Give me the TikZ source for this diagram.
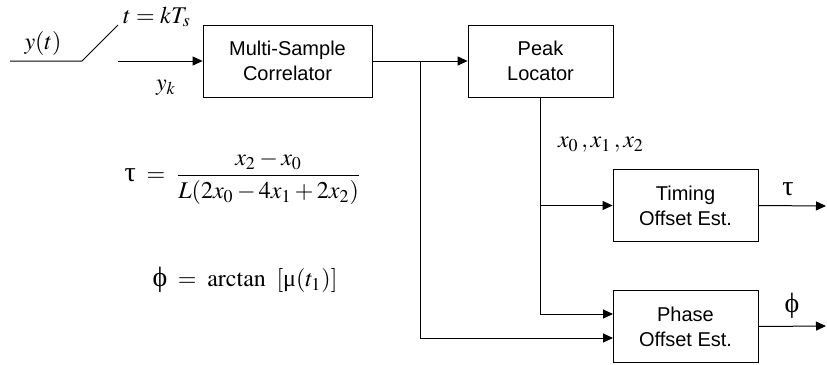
\documentclass[tikz,border=0pt]{standalone}
\usepackage{mathptmx}
\usepackage[no-math]{fontspec}
\setmainfont{Liberation Sans}
\newfontfamily\grk{Liberation Serif}
\usetikzlibrary{arrows.meta}

\begin{document}
\begin{tikzpicture}[x=0.5pt,y=-0.5pt]
  \tikzset{BlockStyle/.style = {draw,
                                 rectangle,
                                 align          = center,
                                 font           = \fontsize{10}{12.5}\selectfont,
                                 inner sep      = 0pt,
                                 minimum height = 36pt}}
  \tikzset{WireStyle/.style   = {line width     = 0.5pt}}
  \tikzset{ArrowStyle/.style  = {WireStyle,
                                 -{Triangle[length=5pt,width=4.5pt]}}}
  \tikzset{MathStyle/.style   = {font           = \fontsize{12}{14}\selectfont,
                                 inner sep      = 0pt}}

\useasboundingbox (0,0) rectangle (827,365);

\coordinate (A1) at (10,61);
\coordinate (A2) at (82,61);
\coordinate (A3) at (118,25);
\coordinate (A4) at (118,61);
\coordinate (B1) at (420,61);
\coordinate (C1) at (613,314);
\coordinate (C2) at (613,338);
\coordinate (D1) at (826,206);
\coordinate (D2) at (826,326);

\node[BlockStyle, minimum width=84.5pt] (Corr)   at (287.5,61)  {Multi-Sample\\Correlator};
\node[BlockStyle, minimum width=72.5pt] (Peak)   at (540.5,61)  {Peak\\Locator};
\node[BlockStyle, minimum width=72.5pt] (Timing) at (685.5,205.5) {Timing\\Offset Est.};
\node[BlockStyle, minimum width=72.5pt] (Phase)  at (685.5,326.5) {Phase\\Offset Est.};

% sampler
\draw[WireStyle] (A1) -- (A2) -- (A3);
\draw[ArrowStyle] (A4) -- (Corr.west);

\draw[ArrowStyle] (Corr.east) -- (Peak.west);
\draw[ArrowStyle] (B1) |- (C2);
\draw[ArrowStyle] (Peak.south) |- (C1);
\draw[ArrowStyle] (Peak.south |- Timing.west) -- (Timing.west);
\draw[ArrowStyle] (Timing.east) -- (D1);
\draw[ArrowStyle] (Phase.east) -- (D2);

% labels
\node[MathStyle] (Lyt)  at (43,43)  {$y(t)$};
\node[MathStyle] (Lts)  at (157,17) {$t = kT_{s}$};
\node[MathStyle] (Lyk)  at (166,88) {$y_{k}$};
\node[MathStyle] (Lx)   at (601,145) {$x_{0}\,, x_{1}\,, x_{2}$};
\node[MathStyle, font=\fontsize{14}{16}\selectfont] (Ltau) at (788,189) {\grk τ};
\node[MathStyle, font=\fontsize{14}{16}\selectfont] (Lphi) at (792,306) {\grk ϕ};

\node[MathStyle] (Ftau) at (243,178)
  {$\mbox{\fontsize{14}{16}\grk τ} \;=\; \displaystyle\frac{x_{2} - x_{0}}{L(2x_{0} - 4x_{1} + 2x_{2})}$};
\node[MathStyle] (Fphi) at (245,280)
  {$\mbox{\fontsize{14}{16}\grk ϕ} \;=\; \mathrm{arctan}\;\;[\mbox{\grk μ}(t_{1})]$};
\end{tikzpicture}
\end{document}
